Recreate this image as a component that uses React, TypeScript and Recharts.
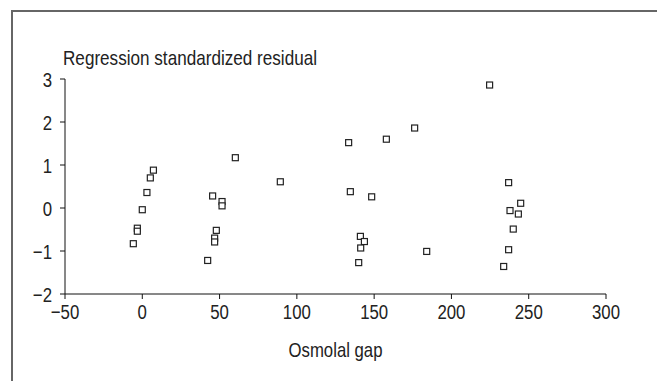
import { Scatter, ScatterChart, XAxis, YAxis } from "recharts";

// values
const osmolalGap = [
  7.2, 5.2, 3.0, 0, -3.2, -3.2, -5.8,
  45.5, 51.6, 51.6, 47.9, 46.8, 46.8, 42.3,
  60.2, 89.3,
  133.5, 134.6, 148.4, 157.9, 176.2,
  141.1, 143.7, 141.3, 140.0,
  184.0, 224.7,
  237.0, 244.8, 237.9, 243.3, 240.0, 237.0, 233.8,
];
const residual = [
  0.88, 0.7, 0.36, -0.04, -0.47, -0.54, -0.83,
  0.28, 0.15, 0.05, -0.52, -0.7, -0.79, -1.22,
  1.17, 0.61,
  1.52, 0.38, 0.26, 1.6, 1.86,
  -0.66, -0.78, -0.93, -1.27,
  -1.01, 2.86,
  0.59, 0.11, -0.06, -0.14, -0.49, -0.97, -1.36,
];
const xTicks = [-50, 0, 50, 100, 150, 200, 250, 300];
const yTicks = [-2, -1, 0, 1, 2, 3];

const points = osmolalGap.map((x, i) => ({ x, y: residual[i] }));

// no condensed font installed, so Liberation Sans squeezed horizontally
const font = "'Liberation Sans', Arial, sans-serif";
const ink = "#222";
const squeeze = 0.8;
const size = 21;

// minus sign like the print version
const fmt = (v: number) => (v < 0 ? `\u2212${Math.abs(v)}` : `${v}`);

function OpenSquare(props: any) {
  const { cx, cy } = props;
  if (cx == null || cy == null) return null;
  return (
    <rect x={cx - 3} y={cy - 3} width={6} height={6} fill="#fff" stroke="#222" strokeWidth={1.2} />
  );
}

function XTick(props: any) {
  const { x, y, payload } = props;
  return (
    <text
      transform={`translate(${x},${y}) scale(${squeeze},1)`}
      textAnchor="middle"
      dy="0.71em"
      fill={ink}
      fontSize={size}
      fontFamily={font}
    >
      {fmt(payload.value)}
    </text>
  );
}

function YTick(props: any) {
  const { x, y, payload } = props;
  return (
    <text
      transform={`translate(${x},${y}) scale(${squeeze},1)`}
      textAnchor="end"
      dy="0.36em"
      fill={ink}
      fontSize={size}
      fontFamily={font}
    >
      {fmt(payload.value)}
    </text>
  );
}

function YTitle(props: any) {
  const vb = props.viewBox || {};
  return (
    <text
      x={vb.x + vb.width - 2}
      y={vb.y - 14}
      fill={ink}
      fontSize={size}
      fontFamily={font}
      textLength={254}
      lengthAdjust="spacingAndGlyphs"
    >
      Regression standardized residual
    </text>
  );
}

function XTitle(props: any) {
  const vb = props.viewBox || {};
  return (
    <text
      x={vb.x + vb.width / 2 - 47}
      y={vb.y + 63}
      fill={ink}
      fontSize={size}
      fontFamily={font}
      textLength={94}
      lengthAdjust="spacingAndGlyphs"
    >
      Osmolal gap
    </text>
  );
}

export default function App() {
  return (
    <div style={{ position: "absolute", left: 0, top: 0, width: 657, height: 381, background: "#fff" }}>
      <div
        style={{
          position: "absolute",
          left: 11,
          top: 10,
          right: 0,
          bottom: 0,
          borderTop: "2px solid #666",
          borderLeft: "2px solid #666",
        }}
      />
      <ScatterChart
        width={657}
        height={381}
        margin={{ top: 79, right: 51, bottom: 57, left: 0 }}
        style={{ position: "absolute", left: 0, top: 0 }}
      >
        <XAxis
          type="number"
          dataKey="x"
          domain={[-50, 300]}
          ticks={xTicks}
          height={30}
          tickSize={5}
          tickMargin={5}
          stroke="#111"
          tick={<XTick />}
          label={<XTitle />}
        />
        <YAxis
          type="number"
          dataKey="y"
          domain={[-2, 3]}
          ticks={yTicks}
          width={65}
          tickSize={5}
          tickMargin={8}
          stroke="#111"
          tick={<YTick />}
          label={<YTitle />}
        />
        <Scatter data={points} shape={<OpenSquare />} isAnimationActive={false} />
      </ScatterChart>
    </div>
  );
}
